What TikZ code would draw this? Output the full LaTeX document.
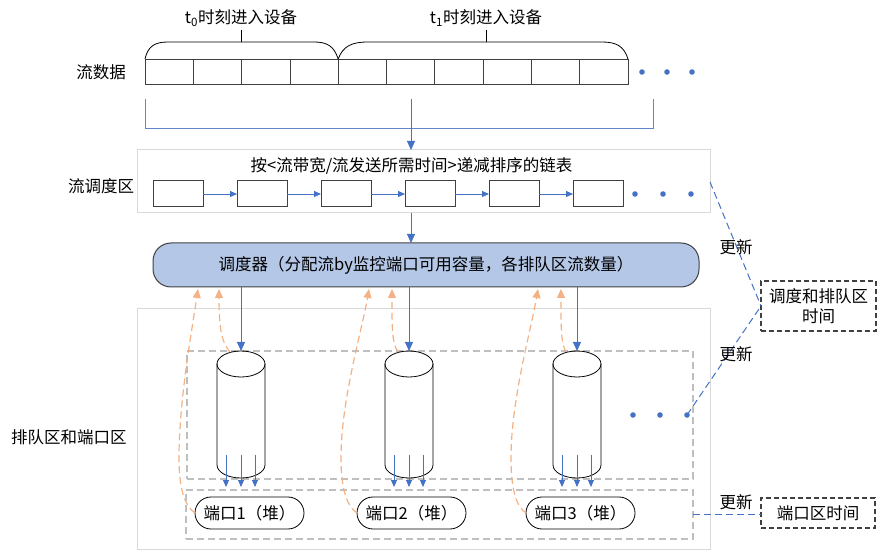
\documentclass[tikz,border=0pt]{standalone}
\usepackage{fontspec}
\setmainfont{Noto Sans CJK SC}
\usetikzlibrary{arrows.meta,shapes.misc}
\definecolor{bblue}{HTML}{4472C4}
\definecolor{lblue}{HTML}{B4C7E7}
\definecolor{orng}{HTML}{F4B183}
\definecolor{rgray}{HTML}{D9D9D9}
\definecolor{dgray}{HTML}{BFBFBF}
\definecolor{dark}{HTML}{404040}
\begin{document}
\begin{tikzpicture}[x=1pt,y=-1pt,
  every node/.style={font=\fontsize{16.5pt}{20pt}\selectfont, text=black},
  cell/.style={draw=dark, line width=0.8pt, minimum width=48.3pt, minimum height=25pt, inner sep=0pt, outer sep=0pt},
  lbox/.style={draw=dark, line width=1pt, minimum width=50pt, minimum height=26pt, inner sep=0pt, outer sep=0pt},
  region/.style={draw=rgray, line width=1pt, inner sep=0pt, outer sep=0pt},
  dregion/.style={draw=dgray, line width=1.2pt, dash pattern=on 7pt off 4pt, inner sep=0pt, outer sep=0pt},
  sched/.style={draw=dark, line width=1pt, fill=lblue, rounded corners=18pt, inner sep=0pt, outer sep=0pt},
  port/.style={draw=black, line width=0.8pt, rounded rectangle, minimum width=109pt, minimum height=32pt, inner sep=0pt, outer sep=0pt},
  tbox/.style={draw=dark, line width=1.6pt, dash pattern=on 5pt off 3pt, align=center, inner sep=0pt, outer sep=0pt},
  cylnode/.style={inner sep=0pt, outer sep=0pt, minimum width=48pt, minimum height=127pt},
  cylline/.style={draw=black, line width=0.8pt},
  brace/.style={draw=black, line width=0.8pt},
  bracketline/.style={draw=bblue!85, line width=1pt},
  barrow/.style={draw=bblue, line width=1pt, -{Triangle[length=9pt,width=8pt]}},
  sarrow/.style={draw=bblue, line width=0.9pt, -{Triangle[length=7pt,width=6pt]}},
  oarrow/.style={draw=orng, line width=1.2pt, dash pattern=on 7pt off 4pt, -{Triangle[length=9pt,width=8pt]}},
  udash/.style={draw=bblue, line width=1pt, dash pattern=on 7pt off 4pt},
  dot/.style={fill=bblue}
]
\useasboundingbox (0,0) rectangle (879,553);

% ---- top: data stream ----
\node (t0) at (241,18) {t\textsubscript{0}时刻进入设备};
\node (t1) at (486,18) {t\textsubscript{1}时刻进入设备};
\node (lblstream) at (101,72) {流数据};
\foreach \i in {1,...,10} {
  \node[cell] (d\i) at ({145+48.3*(\i-0.5)},71.5) {};
}
\draw[brace] (d1.north west) .. controls (148,46) and (155,42) .. (168,42) -- (314,42) .. controls (327,42) and (334,46) .. (d4.north east);
\draw[brace] (d5.north west) .. controls (343,46) and (352,42) .. (368,42) -- (602,42) .. controls (616,42) and (624,46) .. (d10.north east);
\draw[brace] (241,42) -- (t0.south -| 241,0);
\draw[brace] (486,42) -- (t1.south -| 486,0);
\foreach \x in {642,667,692} { \fill[dot] (\x,72) circle[radius=2.8pt]; }

\coordinate (bl) at (145,99);
\coordinate (br) at (653,99);
\coordinate (bm) at (411,99);
\draw[bracketline] (bl) -- (145,129) -- (653,129) -- (br);

% ---- flow scheduling region ----
\node[region, minimum width=573pt, minimum height=63pt] (flow) at (423.5,181.5) {};
\node (lblflow) at (101,186) {流调度区};
\node (flowtitle) at (411.5,166) {按<流带宽/流发送所需时间>递减排序的链表};
\foreach \i in {1,...,6} {
  \node[lbox] (l\i) at ({178+84*(\i-1)},194) {};
}
\foreach \i/\j in {1/2,2/3,3/4,4/5,5/6} { \draw[sarrow] (l\i.east) -- (l\j.west); }
\foreach \x in {635,663,691} { \fill[dot] (\x,194) circle[radius=2.8pt]; }
\draw[barrow] (bm) -- (bm |- flow.north);

% ---- scheduler ----
\node[sched, minimum width=546pt, minimum height=44pt] (sch) at (426,265) {调度器（分配流by监控端口可用容量，各排队区流数量）};
\draw[barrow] (bm |- flow.south) -- (bm |- sch.north);

% ---- queue and port region ----
\node[region, minimum width=573pt, minimum height=240pt] (qp) at (423.5,429) {};
\node (lblqp) at (69,437) {排队区和端口区};
\node[dregion, minimum width=506pt, minimum height=128pt] (qregion) at (440,415) {};
\node[dregion, minimum width=507pt, minimum height=49pt] (pregion) at (439.5,514.5) {};

\foreach \i/\cx in {1/241,2/409,3/577} {
  \node[cylnode] (cyl\i) at (\cx,414.5) {};
  \draw[cylline] (\cx-24,364) -- (\cx-24,465)
     .. controls (\cx-24,472.18) and (\cx-13.25,478) .. (\cx,478)
     .. controls (\cx+13.25,478) and (\cx+24,472.18) .. (\cx+24,465) -- (\cx+24,364);
  \draw[cylline] (\cx,364) ellipse[x radius=24, y radius=13];
  \draw[barrow] (cyl\i.north |- sch.south) -- (cyl\i.north);
  \foreach \dx in {-15,0,14} { \draw[sarrow] (\cx+\dx,455) -- (\cx+\dx,487); }
}

\node[port] (p1) at (249.5,513) {端口1（堆）};
\node[port] (p2) at (411.5,513) {端口2（堆）};
\node[port] (p3) at (580.5,513) {端口3（堆）};

% orange feedback arrows
\draw[oarrow] (p1.west) .. controls (186,507) and (179,492) .. (179,458) .. controls (179,400) and (192,330) .. (198,289);
\draw[oarrow] (230,352) .. controls (222,343) and (219,330) .. (219,289);
\draw[oarrow] (p2.west) .. controls (348,507) and (341,492) .. (341,458) .. controls (341,400) and (362,330) .. (369,289);
\draw[oarrow] (398,352) .. controls (392,343) and (392,330) .. (392,289);
\draw[oarrow] (p3.west) .. controls (517,507) and (511,492) .. (511,458) .. controls (511,400) and (531,330) .. (538,289);
\draw[oarrow] (566,352) .. controls (561,343) and (561,330) .. (561,289);

\foreach \x/\n in {633/1,660/2,687/3} { \fill[dot] (\x,415) circle[radius=2.8pt]; \coordinate (qd\n) at (\x,415); }

% ---- right side ----
\node[tbox, minimum width=115pt, minimum height=50pt] (tA) at (818.5,306) {调度和排队区\\时间};
\node[tbox, minimum width=114pt, minimum height=30pt] (tB) at (818,513) {端口区时间};
\draw[udash] (flow.east |- 0,182) -- (tA.west);
\draw[udash] (qd3) -- (tA.west);
\draw[udash] (pregion.east) -- (pregion.east -| tB.west);
\node (u1) at (736,247) {更新};
\node (u2) at (736,354) {更新};
\node (u3) at (736,502) {更新};
\end{tikzpicture}
\end{document}
